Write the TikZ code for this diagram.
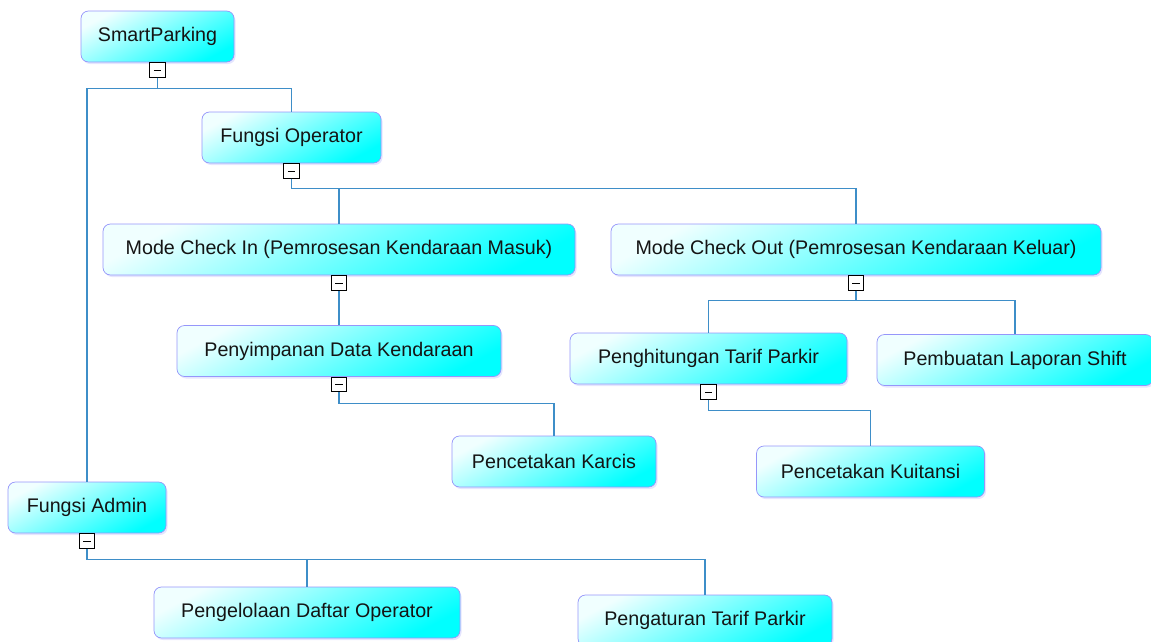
\documentclass[tikz,border=0pt]{standalone}
\usepackage{fontspec}
\setmainfont{Liberation Sans}
\usetikzlibrary{positioning,shadows}
\definecolor{linkblue}{RGB}{62,142,200}
\definecolor{boxline}{RGB}{150,150,250}
\definecolor{textgray}{RGB}{20,20,20}
\begin{document}
\begin{tikzpicture}[
  box/.style={draw=boxline, rounded corners=0.15cm, minimum height=1.02cm, inner sep=0pt,
    top color=cyan!6!white, bottom color=cyan, shading angle=28,
    drop shadow={shadow xshift=0.03cm, shadow yshift=-0.04cm, fill=boxline, opacity=0.25},
    text=textgray, font=\fontsize{11.2}{13}\selectfont},
  ctl/.style={draw=black, fill=white, line width=0.5pt, minimum width=0.31cm, minimum height=0.29cm, inner sep=0pt,
    path picture={\draw[line width=0.5pt] ([xshift=0.08cm]path picture bounding box.west) -- ([xshift=-0.08cm]path picture bounding box.east);}},
  link/.style={draw=linkblue, line width=0.6pt}
]
\useasboundingbox (0,0) rectangle (23.02,-12.84);
\node[box, minimum width=3.06cm] (smart) at (3.15,-0.73) {SmartParking};
\node[box, minimum width=3.58cm] (opr) at (5.83,-2.75) {Fungsi Operator};
\node[box, minimum width=9.44cm] (cin) at (6.78,-4.99) {Mode Check In (Pemrosesan Kendaraan Masuk)};
\node[box, minimum width=9.8cm] (cout) at (17.12,-4.99) {Mode Check Out (Pemrosesan Kendaraan Keluar)};
\node[box, minimum width=6.48cm] (simpan) at (6.78,-7.02) {Penyimpanan Data Kendaraan};
\node[box, minimum width=4.08cm] (karcis) at (11.08,-9.23) {Pencetakan Karcis};
\node[box, minimum width=5.54cm] (hitung) at (14.17,-7.17) {Penghitungan Tarif Parkir};
\node[box, minimum width=5.52cm] (laporan) at (20.3,-7.2) {Pembuatan Laporan Shift};
\node[box, minimum width=4.56cm] (kuitansi) at (17.41,-9.43) {Pencetakan Kuitansi};
\node[box, minimum width=3.16cm] (adm) at (1.74,-10.15) {Fungsi Admin};
\node[box, minimum width=6.12cm] (daftar) at (6.14,-12.25) {Pengelolaan Daftar Operator};
\node[box, minimum width=5.08cm] (tarif) at (14.1,-12.41) {Pengaturan Tarif Parkir};
% collapse boxes
\node[ctl, below=0pt of smart] (c1) {};
\node[ctl, below=0pt of opr] (c2) {};
\node[ctl, below=0pt of cin] (c3) {};
\node[ctl, below=0pt of cout] (c4) {};
\node[ctl, below=0pt of simpan] (c5) {};
\node[ctl, below=0pt of hitung] (c6) {};
\node[ctl, below=0pt of adm] (c7) {};
% connectors
\draw[link] (c1.south) -- ++(0,-0.22) -| (opr.north);
\draw[link] (c1.south) -- ++(0,-0.22) -| (adm.north);
\draw[link] (c2.south) -- ++(0,-0.19) -| (cin.north);
\draw[link] (c2.south) -- ++(0,-0.19) -| (cout.north);
\draw[link] (c3.south) -- (simpan.north);
\draw[link] (c5.south) -- ++(0,-0.22) -| (karcis.north);
\draw[link] (c4.south) -- ++(0,-0.2) -| (hitung.north);
\draw[link] (c4.south) -- ++(0,-0.2) -| (laporan.north);
\draw[link] (c6.south) -- ++(0,-0.21) -| (kuitansi.north);
\draw[link] (c7.south) -- ++(0,-0.22) -| (daftar.north);
\draw[link] (c7.south) -- ++(0,-0.22) -| (tarif.north);
\end{tikzpicture}
\end{document}
